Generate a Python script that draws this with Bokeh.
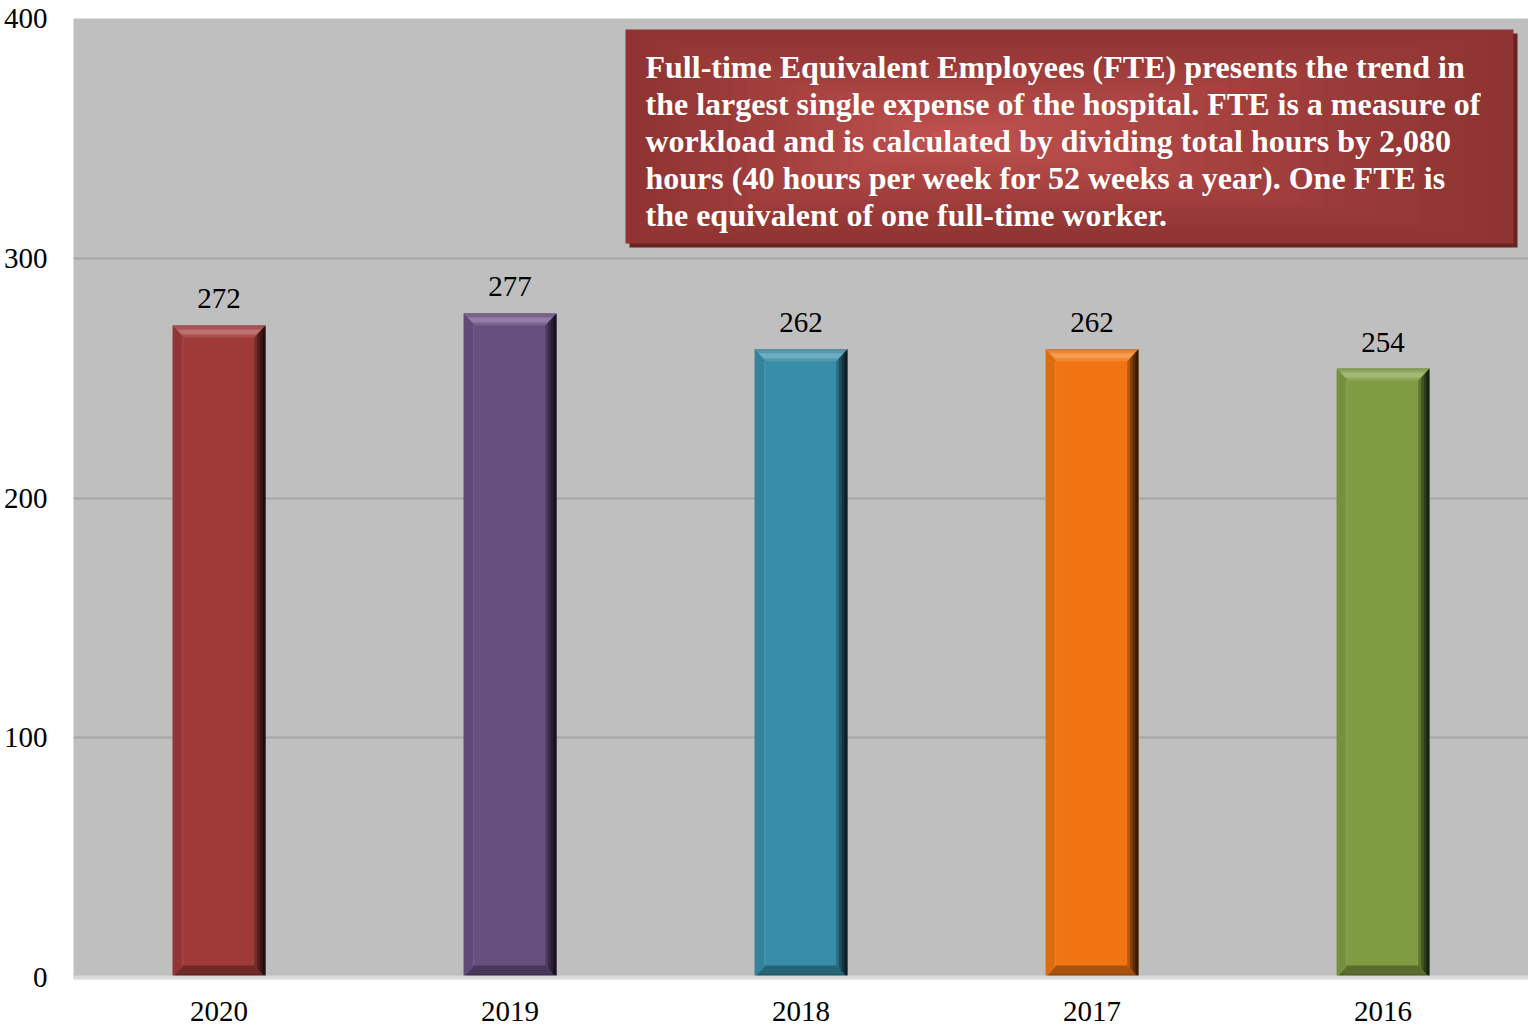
from bokeh.plotting import figure
from bokeh.models import Range1d, FixedTicker
from bokeh.core.properties import value
from bokeh.embed import file_html
from bokeh.resources import INLINE

years = ["2020", "2019", "2018", "2017", "2016"]
fte = [272, 277, 262, 262, 254]
bar_colors = ["#9F3A38", "#674F80", "#388DA8", "#F07512", "#7F9C43"]
y_ticks = [0, 100, 200, 300, 400]
note_lines = [
    "Full-time Equivalent Employees (FTE) presents the trend in",
    "the largest single expense of the hospital. FTE is a measure of",
    "workload and is calculated by dividing total hours by 2,080",
    "hours (40 hours per week for 52 weeks a year). One FTE is",
    "the equivalent of one full-time worker.",
]

W, H = 1528, 1029
L, T, R, B = 73, 18, 0, 52
fw, fh = W - L - R, H - T - B
n = len(years)
ymax = 400
px_x = n / fw
px_y = ymax / fh

serif = value("Liberation Serif")

p = figure(width=W, height=H, output_backend="svg", toolbar_location=None,
           x_range=Range1d(0, n), y_range=Range1d(0, ymax),
           min_border_left=L, min_border_top=T, min_border_right=R, min_border_bottom=B)
p.background_fill_color = "#BFBFBF"
p.border_fill_color = "white"
p.outline_line_color = None

p.xgrid.grid_line_color = None
p.ygrid.ticker = FixedTicker(ticks=y_ticks)
p.ygrid.grid_line_color = "#A5A5A5"
p.ygrid.grid_line_width = 2

p.yaxis.ticker = FixedTicker(ticks=y_ticks)
p.yaxis.axis_line_color = None
p.yaxis.major_tick_line_color = None
p.yaxis.minor_tick_line_color = None
p.yaxis.major_tick_out = 0
p.yaxis.major_tick_in = 0
p.yaxis.minor_tick_out = 0
p.yaxis.major_label_standoff = 26
p.yaxis.major_label_text_font = "Liberation Serif"
p.yaxis.major_label_text_font_size = "29px"
p.yaxis.major_label_text_color = "black"

centers = [i + 0.5 for i in range(n)]
p.xaxis.ticker = FixedTicker(ticks=centers)
p.xaxis.major_label_overrides = {c: y for c, y in zip(centers, years)}
p.xaxis.axis_line_color = "#D9D9D9"
p.xaxis.axis_line_width = 4
p.xaxis.major_tick_line_color = None
p.xaxis.minor_tick_line_color = None
p.xaxis.major_tick_out = 0
p.xaxis.major_tick_in = 0
p.xaxis.minor_tick_out = 0
p.xaxis.major_label_standoff = 24
p.xaxis.major_label_text_font = "Liberation Serif"
p.xaxis.major_label_text_font_size = "29px"
p.xaxis.major_label_text_color = "black"


def hex2rgb(h):
    h = h.lstrip("#")
    return [int(h[i:i + 2], 16) for i in (0, 2, 4)]


def mix(h, target, t):
    a = hex2rgb(h)
    b = hex2rgb(target)
    return "#%02x%02x%02x" % tuple(round(a[i] + (b[i] - a[i]) * t) for i in range(3))


bw = 0.318
p.vbar(x=centers, top=fte, width=bw, bottom=0, color=bar_colors, line_color=None)

bx, by = 11 * px_x, 12 * px_y
xs_all, ys_all, cols = [], [], []
for c, v, col in zip(centers, fte, bar_colors):
    x0, x1 = c - bw / 2, c + bw / 2
    # left bevel
    xs_all.append([x0, x0, x0 + bx, x0 + bx]); ys_all.append([0, v, v - by, by]); cols.append(mix(col, "#000000", 0.08))
    xs_all.append([x0 + bx - 2 * px_x, x0 + bx - 2 * px_x, x0 + bx, x0 + bx]); ys_all.append([by, v - by, v - by, by]); cols.append(mix(col, "#FFFFFF", 0.06))
    # right bevel (graded)
    for k, t in enumerate([0.25, 0.45, 0.62, 0.78]):
        a = bx * (1 - k / 4)
        xs_all.append([x1, x1, x1 - a, x1 - a]); ys_all.append([0, v, v - by * (1 - k / 4), by * (1 - k / 4)]); cols.append(mix(col, "#000000", t))
    # bottom bevel
    xs_all.append([x0, x1, x1 - bx, x0 + bx]); ys_all.append([0, 0, by, by]); cols.append(mix(col, "#000000", 0.3))
    xs_all.append([x0, x1, x1 - 3 * px_x, x0 + 3 * px_x]); ys_all.append([0, 0, 3 * px_y, 3 * px_y]); cols.append(mix(col, "#000000", 0.5))
    # top bevel
    xs_all.append([x0, x1, x1 - bx, x0 + bx]); ys_all.append([v, v, v - by, v - by]); cols.append(mix(col, "#FFFFFF", 0.12))
    xs_all.append([x0 + 4 * px_x, x1 - 4 * px_x, x1 - 9 * px_x, x0 + 9 * px_x])
    ys_all.append([v - 4 * px_y, v - 4 * px_y, v - 9 * px_y, v - 9 * px_y]); cols.append(mix(col, "#FFFFFF", 0.28))
    xs_all.append([x0, x1, x1 - 1.5 * px_x, x0 + 1.5 * px_x]); ys_all.append([v, v, v - 1.5 * px_y, v - 1.5 * px_y]); cols.append(mix(col, "#888888", 0.4))
p.patches(xs=xs_all, ys=ys_all, fill_color=cols, line_color=None)

p.text(x=centers, y=fte, text=[str(v) for v in fte], text_font=serif, text_font_size="29px",
       text_color="black", text_align="center", text_baseline="bottom", y_offset=-17)

# annotation box
bl = (625 - L) * px_x
br = (1513 - L) * px_x
btop = ymax - (29 - T) * px_y
bbot = ymax - (243 - T) * px_y
p.quad(left=bl + 4 * px_x, right=br + 4 * px_x, top=btop - 4 * px_y, bottom=bbot - 4 * px_y,
       fill_color="#6A2321", line_color=None)
steps = 24
outer, inner = "#8F3432", "#C05250"
cx, cy = bl + (br - bl) * 0.36, (btop + bbot) / 2
for k in range(steps):
    f = 1 - k / steps
    col = mix(outer, inner, (k / (steps - 1)) ** 1.2)
    left = cx - (cx - bl) * f
    right = cx + (br - cx) * f
    top = cy + (btop - cy) * f
    bot = cy - (cy - bbot) * f
    p.quad(left=left, right=right, top=top, bottom=bot, fill_color=col, line_color=None)

tx = (645 - L) * px_x
baselines = [66 + 37.2 * i for i in range(len(note_lines))]
ty = [ymax - (b - T) * px_y for b in baselines]
p.text(x=[tx] * len(note_lines), y=ty, text=note_lines, text_font=serif, text_font_size="32px",
       text_font_style="bold", text_color="white", text_align="left", text_baseline="alphabetic")

open("out.html", "w").write(file_html(p, INLINE))
